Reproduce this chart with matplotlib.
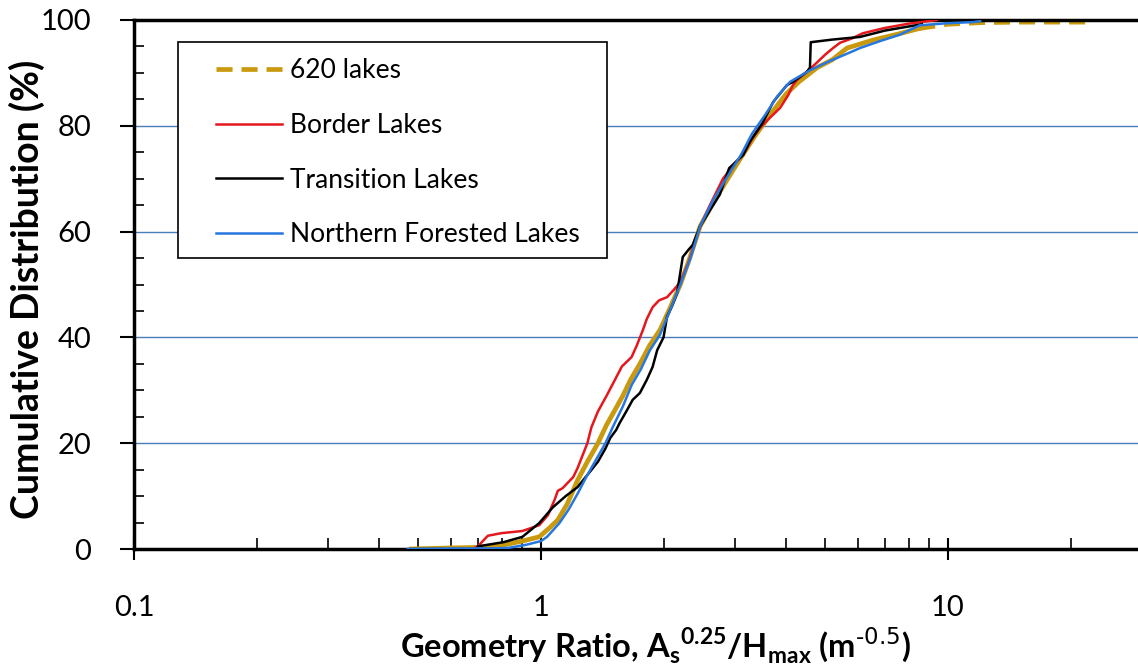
import numpy as np
import matplotlib.pyplot as plt
from matplotlib.patches import Rectangle
from matplotlib.ticker import FixedLocator, NullFormatter, MultipleLocator

plt.rcParams['font.family'] = ['Lato', 'DejaVu Sans']

# cumulative distributions (x = geometry ratio, y = %)
all_x = [0.48, 0.60, 0.70, 0.79, 0.90, 0.99, 1.05, 1.10, 1.16, 1.23, 1.30, 1.38, 1.45, 1.52,
         1.59, 1.66, 1.75, 1.85, 1.96, 2.06, 2.20, 2.32, 2.46, 2.65, 2.85, 3.10, 3.35, 3.65,
         4.00, 4.30, 4.77, 5.20, 5.65, 6.54, 7.50, 8.50, 10.0, 12.0, 15.0, 22.0]
all_y = [0, 0.2, 0.3, 0.6, 1.5, 2.3, 4.0, 5.5, 8.5, 13, 16.5, 20, 23.5, 26.3,
         29, 32, 35, 38.5, 41.4, 45, 50, 55, 61, 65.5, 69.5, 74, 78, 82,
         86, 88.3, 91, 92.5, 94.7, 96.2, 97.3, 98.4, 99.2, 99.5, 99.6, 99.6]

border_x = [0.69, 0.70, 0.74, 0.80, 0.90, 0.99, 1.04, 1.08, 1.10, 1.13, 1.20, 1.23, 1.30, 1.33,
            1.38, 1.45, 1.52, 1.58, 1.67, 1.72, 1.78, 1.82, 1.88, 1.95, 2.04, 2.12, 2.20, 2.30,
            2.46, 2.60, 2.80, 3.00, 3.14, 3.30, 3.45, 3.65, 3.87, 4.05, 4.16, 4.26, 4.50, 4.77,
            5.00, 5.22, 5.43, 5.80, 6.18, 7.00, 8.00, 9.40]
border_y = [0.3, 0.5, 2.5, 3.0, 3.4, 4.5, 6.4, 9.3, 11, 11.5, 13.6, 15.3, 20, 23,
            26, 29, 32, 34.5, 36.3, 38.5, 41.4, 43.5, 45.7, 47, 47.6, 49, 50.5, 54,
            61, 65, 70, 73, 74.5, 77.5, 79.6, 81.5, 83.4, 85.8, 87.7, 88.7, 90.2, 92,
            93.5, 94.7, 95.7, 96.5, 97.5, 98.5, 99.3, 100]

trans_x = [0.70, 0.81, 0.90, 0.99, 1.07, 1.15, 1.23, 1.30, 1.38, 1.44, 1.48, 1.53, 1.56, 1.62,
           1.68, 1.75, 1.82, 1.88, 1.93, 2.00, 2.04, 2.10, 2.16, 2.23, 2.30, 2.36, 2.46, 2.60,
           2.75, 2.90, 3.14, 3.26, 3.50, 3.72, 4.02, 4.16, 4.50, 4.58, 4.60, 5.20, 6.08, 7.00,
           8.63]
trans_y = [0.5, 1.3, 2.3, 4.9, 7.9, 10, 11.7, 14, 16.5, 19, 21, 22.5, 23.8, 26,
           28.2, 29.5, 32, 34.4, 37.6, 40, 43.9, 46, 48.4, 55.2, 56.5, 57.5, 61, 64,
           67, 72, 74.5, 77, 80.5, 84.5, 87.7, 88.3, 90.2, 91, 95.8, 96.3, 96.8, 98,
           99.2]

north_x = [0.47, 0.60, 0.75, 0.83, 0.92, 1.00, 1.035, 1.11, 1.17, 1.233, 1.30, 1.38, 1.44, 1.50,
           1.59, 1.67, 1.76, 1.85, 1.96, 2.06, 2.20, 2.33, 2.46, 2.65, 2.85, 3.10, 3.30, 3.55,
           3.80, 4.09, 4.58, 5.04, 5.60, 6.08, 6.80, 7.60, 8.53, 10.0, 11.5, 12.0]
north_y = [0, 0.1, 0.1, 0.2, 0.8, 1.5, 2.3, 4.9, 7.5, 10.6, 14, 17.5, 20, 23,
           27, 31, 34, 37.5, 40.5, 44.5, 50, 55, 61, 66, 70, 74.5, 78.5, 82,
           85.5, 88.3, 90.5, 92, 93.5, 94.7, 96, 97.2, 99, 99.4, 99.6, 99.8]

x_ticks = [0.1, 1, 10]
x_ticklabels = ['0.1', '1', '10']
y_ticks = [0, 20, 40, 60, 80, 100]

gold = '#C99A0E'
W, H = 1138, 670

fig = plt.figure(figsize=(W / 100, H / 100), dpi=100)
ax = fig.add_axes([134 / W, 121 / H, 1004 / W, 529 / H])

for yy in [20, 40, 60, 80]:
    ax.axhline(yy, color='#4A7EBB', lw=1.0, zorder=0)

# the dense part of the 620-lake curve looks solid (dash pattern restarts on short
# segments), only the sparse tail shows the dashes
ax_all = np.array(all_x)
ay_all = np.array(all_y)
tail = ax_all >= 8.5
ax.plot(ax_all[tail], ay_all[tail], color=gold, lw=3.4, dashes=(3.4, 1.9),
        label='620 lakes', zorder=2, clip_on=False)
k = np.argmax(tail)
ax.plot(ax_all[:k + 1], ay_all[:k + 1], color=gold, lw=3.4, zorder=2)
ax.plot(border_x, border_y, color='#E5171D', lw=1.8, label='Border Lakes', zorder=3)
ax.plot(trans_x, trans_y, color='black', lw=1.8, label='Transition Lakes', zorder=3)
ax.plot(north_x, north_y, color='#2677E0', lw=1.8, label='Northern Forested Lakes', zorder=4)

ax.set_xscale('log')
ax.set_xlim(0.1, 29.3)
ax.set_ylim(0, 100)

ax.xaxis.set_major_locator(FixedLocator(x_ticks))
ax.set_xticklabels(x_ticklabels)
ax.xaxis.set_minor_locator(FixedLocator([m * d for d in [0.1, 1, 10] for m in range(2, 10)]))
ax.xaxis.set_minor_formatter(NullFormatter())
ax.yaxis.set_major_locator(FixedLocator(y_ticks))
ax.yaxis.set_minor_locator(MultipleLocator(5))

ax.tick_params(axis='x', which='major', direction='inout', length=16, width=1.5,
               labelsize=21, pad=25)
ax.tick_params(axis='x', which='minor', direction='in', length=8, width=1.2)
ax.tick_params(axis='y', which='major', direction='out', length=10, width=1.5,
               labelsize=21, pad=21)
ax.tick_params(axis='y', which='minor', direction='in', length=7, width=1.2)

for side in ['left', 'bottom', 'top']:
    ax.spines[side].set_linewidth(2.5)
    ax.spines[side].set_color('black')
ax.spines['right'].set_visible(False)

ax.set_xlabel(r'Geometry Ratio, A$_\mathregular{s}$$^\mathregular{0.25}$/H$_\mathregular{max}$ (m$^{\text{-0.5}}$)',
              fontsize=23.5, fontweight='bold')
ax.xaxis.set_label_coords((655 - 134) / 1004, -(626 - 549) / 529)
ax.set_ylabel('Cumulative Distribution (%)', fontsize=27, fontweight='bold')
ax.yaxis.set_label_coords(-(134 - 45) / 1004, 0.49)

# legend box drawn by hand so the entries can sit further in from its left edge
ax.add_patch(Rectangle((178 / W, 1 - 258 / H), (607 - 178) / W, (258 - 42) / H,
                       transform=fig.transFigure, facecolor='white', edgecolor='black',
                       lw=1.2, zorder=6, clip_on=False))
leg = ax.legend(loc='upper left', bbox_to_anchor=(216 / W, 1 - 58 / H),
                bbox_transform=fig.transFigure, fontsize=19, frameon=False,
                borderpad=0, labelspacing=1.13, handlelength=2.5,
                handletextpad=0.3, borderaxespad=0)
leg.set_zorder(7)

fig.savefig('out.png', dpi=100)
